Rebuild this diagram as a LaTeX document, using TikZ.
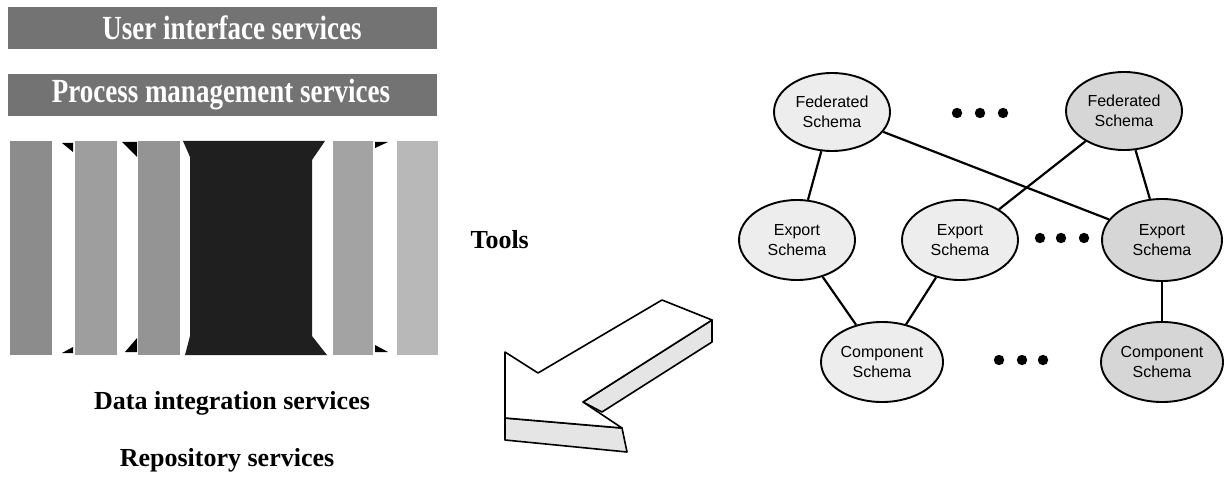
\documentclass[tikz,border=0pt]{standalone}
\usepackage{fontspec}
\setmainfont{Liberation Serif}
\newfontfamily\schemafont{Liberation Sans}
\usetikzlibrary{shapes.geometric}
\definecolor{ink}{gray}{0}
\definecolor{barc}{gray}{0.45}
\definecolor{colA}{gray}{0.55}
\definecolor{colB}{gray}{0.62}
\definecolor{colC}{gray}{0.58}
\definecolor{colD}{gray}{0.12}
\definecolor{colE}{gray}{0.64}
\definecolor{colF}{gray}{0.72}
\definecolor{schA}{gray}{0.93}
\definecolor{schB}{gray}{0.84}
\definecolor{facec}{gray}{0.9}
\newcommand{\tallbar}[1]{\scalebox{1}[1.25]{#1}}

\begin{document}
\begin{tikzpicture}[x=1pt, y=-1pt, text=ink,
  bar/.style={fill=barc, minimum width=429pt, minimum height=42pt, inner sep=0pt},
  bartext/.style={text=white, font=\bfseries\fontsize{27}{27}\selectfont},
  lbl/.style={font=\bfseries\fontsize{26}{26}\selectfont},
  sch/.style={ellipse, draw=ink, line width=1.9pt, fill=#1, minimum width=116pt, minimum height=78pt,
              inner sep=0pt, align=center, font=\schemafont\fontsize{16}{19.5}\selectfont},
  comp/.style={sch=#1, minimum width=122pt, minimum height=80pt},
  link/.style={draw=ink, line width=2.2pt},
  face/.style={draw=ink, line width=1.6pt, line join=round}
]
\useasboundingbox (0,0) rectangle (1225,486);

% ---- service layers
\node[bar] (ui) at (222.5,28) {};
\node[bartext] (uit) at (232,28) {\tallbar{User interface services}};
\node[bar] (pm) at (222.5,95) {};
\node[bartext] (pmt) at (221,95) {\tallbar{Process management services}};

% ---- tool columns
\foreach \xa/\xb/\c in {10/52/colA, 75/117/colB, 138/180/colC, 333/373/colE, 397/438/colF}
  \fill[\c] (\xa,141) rectangle (\xb,355);
\fill[colD] (183,141) -- (325,141) -- (312,160) -- (312,336) -- (327,355)
  -- (185,355) -- (190,336) -- (190,157) -- cycle;
% wedges beside the columns
\fill[ink] (62,143) -- (73,143) -- (73,152) -- cycle;
\fill[ink] (62,353) -- (73,347) -- (73,353) -- cycle;
\fill[ink] (122,142) -- (137,142) -- (137,157) -- cycle;
\fill[ink] (125,352) -- (137,338) -- (137,352) -- cycle;
\fill[ink] (375,142) -- (388,142) -- (375,148) -- cycle;
\fill[ink] (375,345) -- (388,352) -- (375,352) -- cycle;

\node[lbl, anchor=base] (dis) at (232,409) {Data integration services};
\node[lbl, anchor=base] (rep) at (227,466) {Repository services};
\node[lbl, anchor=base west] (tools) at (467,249) {Tools};

% ---- 3d arrow
\filldraw[face, fill=facec] (505,418) -- (622,428) -- (627,452) -- (505,440) -- cycle;
\filldraw[face, fill=facec] (583,402) -- (712,320) -- (712,342) -- (602,412) -- cycle;
\filldraw[face, fill=white] (505,352) -- (538,373) -- (662,300) -- (712,320)
  -- (583,402) -- (622,428) -- (505,418) -- cycle;

% ---- schema graph
\node[sch=schA] (fedA) at (832,112) {Federated\\Schema};
\node[sch=schB] (fedB) at (1124,111) {Federated\\Schema};
\node[sch=schA, minimum height=80pt] (expA) at (797,240) {Export\\Schema};
\node[sch=schA, minimum height=80pt] (expB) at (960,240) {Export\\Schema};
\node[sch=schB, minimum width=120pt, minimum height=82pt] (expC) at (1162,240) {Export\\Schema};
\node[comp=schA] (comA) at (882,362) {Component\\Schema};
\node[comp=schB] (comC) at (1162,362) {Component\\Schema};

\foreach \a/\b in {fedA/expA, fedA/expC, fedB/expB, fedB/expC, expA/comA, expB/comA, expC/comC}
  \draw[link] (\a) -- (\b);

\foreach \x/\y in {957/113, 980/113, 1003/113, 1040/238, 1061/238, 1084/238, 999/360, 1022/360, 1043/360}
  \fill[ink] (\x,\y) circle (5.2pt);
\end{tikzpicture}
\end{document}
